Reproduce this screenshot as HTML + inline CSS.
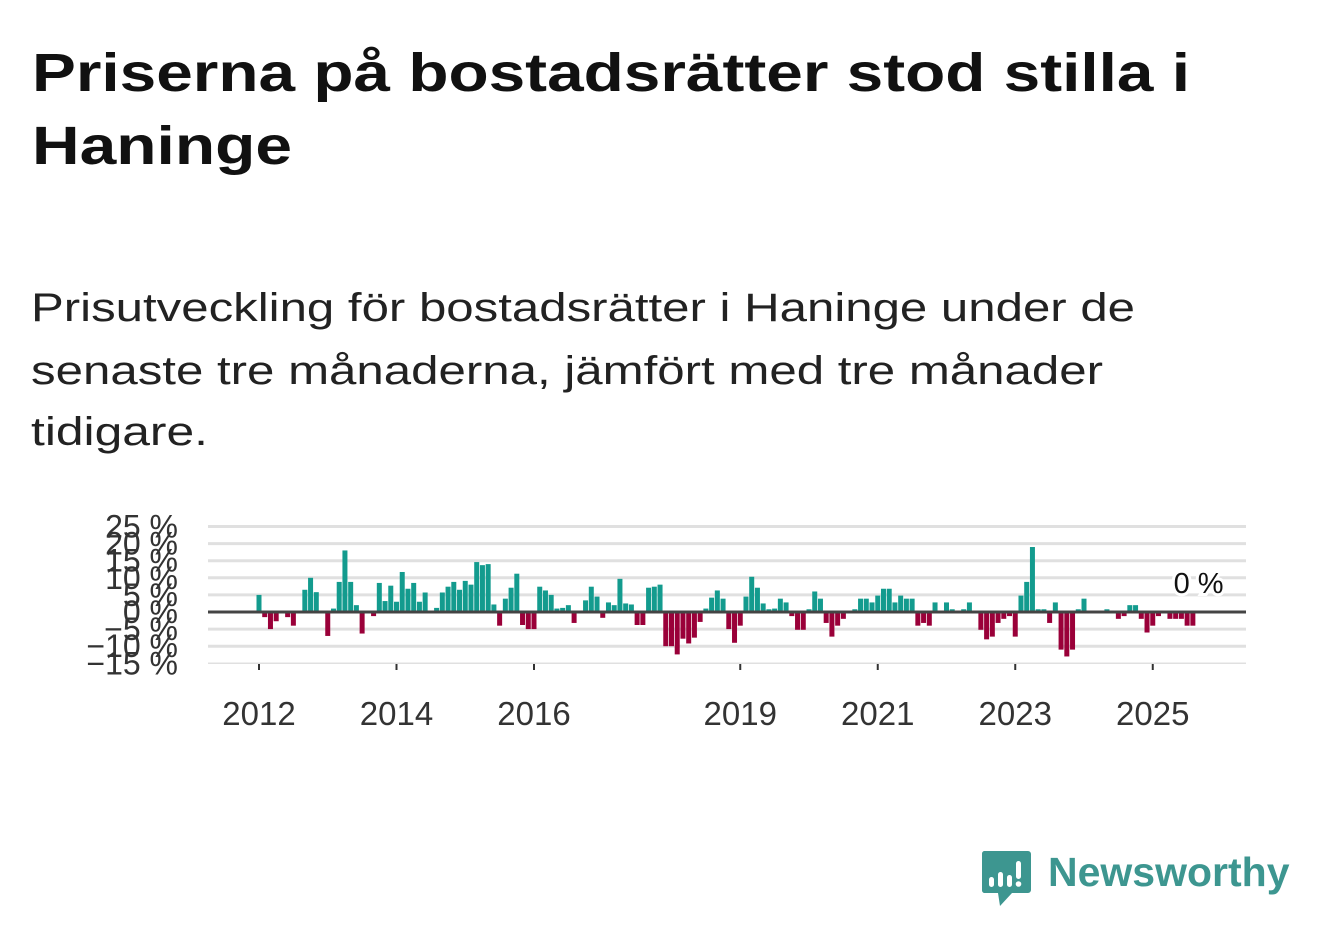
<!DOCTYPE html>
<html><head><meta charset="utf-8">
<style>
body{margin:0;background:#fff;width:1322px;height:939px;overflow:hidden;font-family:"Liberation Sans","DejaVu Sans",sans-serif;}
.ln{position:absolute;left:32px;white-space:nowrap;transform-origin:0 0;display:inline-block;}
.t{font-size:54px;font-weight:bold;color:#111;}
.s{font-size:40px;color:#222;left:31px;}
svg{position:absolute;left:0;top:0;}
</style></head><body>
<div>
<span class="ln t" data-w="1158" style="top:42px">Priserna på bostadsrätter stod stilla i</span>
<span class="ln t" data-w="260" style="top:115px">Haninge</span>
</div>
<div>
<span class="ln s" data-w="1104" style="top:286px">Prisutveckling för bostadsrätter i Haninge under de</span>
<span class="ln s" data-w="1072" style="top:349px">senaste tre månaderna, jämfört med tre månader</span>
<span class="ln s" data-w="177" style="top:410px">tidigare.</span>
</div>
<svg id="chart" width="1322" height="939"></svg>
<div style="position:absolute;left:982px;top:851px;">
<svg width="50" height="58" style="position:static">
<path d="M2 0h44a3 3 0 0 1 3 3v36a3 3 0 0 1-3 3H30l-12 13-2-13H2a3 3 0 0 1-2-3V3a3 3 0 0 1 2-3z" fill="#3d9690"/>
<rect x="7" y="26" width="5" height="10" rx="2.5" fill="#fff"/><rect x="16" y="21" width="5" height="15" rx="2.5" fill="#fff"/><rect x="25" y="24" width="5" height="12" rx="2.5" fill="#fff"/><rect x="34" y="10" width="5" height="18" rx="2.5" fill="#fff"/><circle cx="36.5" cy="33" r="2.8" fill="#fff"/>
</svg>
<span style="position:absolute;left:66px;top:-2px;font-size:41px;font-weight:bold;color:#3d9690;white-space:nowrap;">Newsworthy</span>
</div>
<script>
document.querySelectorAll('.ln').forEach(s=>{
  const w=s.getBoundingClientRect().width;
  s.style.transform='scaleX('+(parseFloat(s.dataset.w)/w)+')';
});
const values = [
5,-1.5,-5,-2.7,0,-1.5,-4,0,6.5,10,5.8,0,
-7,1,8.8,18,8.8,2,-6.3,0,-1.2,8.5,3.2,7.7,
3,11.7,6.8,8.5,3,5.7,0,1.2,5.7,7.4,8.8,6.5,
9.1,8,14.6,13.7,14,2.2,-4,3.9,7.1,11.2,-3.8,-5,
-5,7.4,6.3,5,1,1.2,2,-3.2,0,3.4,7.4,4.5,
-1.7,2.8,2,9.7,2.5,2.2,-3.8,-3.8,7.1,7.4,8,-10,
-10,-12.4,-7.8,-9.2,-7.5,-2.9,1,4.2,6.3,3.9,-5,-9,
-4,4.5,10.3,7.1,2.5,0.8,1,3.9,2.8,-1.2,-5.2,-5.2,
0.8,6,3.9,-3.2,-7.2,-4,-2,0,0.8,3.9,3.9,2.8,
4.8,6.8,6.8,2.8,4.8,3.9,3.9,-4,-3.2,-4,2.8,0,
2.8,0.8,0,0.8,2.8,0,-5.2,-8,-7.2,-3.2,-2,-1.2,
-7.2,4.8,8.8,19,0.8,0.8,-3.2,2.8,-11,-13,-11,0.8,
3.9,0,0,0,0.8,0,-2,-1.2,2,2,-2,-6,
-4,-1.2,0,-2,-2,-2,-4,-4,0];
const startYear = 2012;
const yTicks = [25,20,15,10,5,0,-5,-10,-15];
const xTickYears = [2012,2014,2016,2019,2021,2023,2025];
const lastLabel = "0 %";

const NS="http://www.w3.org/2000/svg";
const svg=document.getElementById('chart');
const x0=259, pxPerMonth=68.75/12;
const yZero=612, pxPerPct=3.42;
const xm=i=>x0+i*pxPerMonth;
const y=v=>yZero-v*pxPerPct;
function mk(tag,attrs){const e=document.createElementNS(NS,tag);for(const k in attrs)e.setAttribute(k,attrs[k]);svg.appendChild(e);return e;}
yTicks.forEach(t=>{
  if(t!==0){const g=mk('line',{x1:208,x2:1246,y1:y(t),y2:y(t),stroke:'#e0e0e0','stroke-width':t===-15?1.5:3});
  
  }
  const lb=mk('text',{x:178,y:y(t)+11,'text-anchor':'end','font-size':32,fill:'#333'});
  lb.textContent=(t<0?'\u2212'+(-t):t)+' %';
  
  
});
values.forEach((v,i)=>{
  const r=mk('rect',{x:xm(i)-2.5,width:5,y:Math.min(y(v),yZero),height:Math.abs(y(v)-yZero),fill:v>=0?'#139b8e':'#9a0039'});
  
  
});
const zl=mk('line',{x1:208,x2:1246,y1:yZero,y2:yZero,stroke:'#444','stroke-width':3});


xTickYears.forEach(yr=>{
  const xx=xm((yr-startYear)*12);
  const tk=mk('line',{x1:xx,x2:xx,y1:664,y2:670,stroke:'#333','stroke-width':2});
  
  
  const lb=mk('text',{x:xx,y:725,'text-anchor':'middle','font-size':33,fill:'#333'});
  lb.textContent=yr;
  
  
});
const li=values.length-1;
const ll=mk('text',{x:xm(li),y:y(values[li])-19,'text-anchor':'middle','font-size':29,fill:'#111',stroke:'#fff','stroke-width':6,'paint-order':'stroke'});
ll.textContent=lastLabel;


</script>
</body></html>
